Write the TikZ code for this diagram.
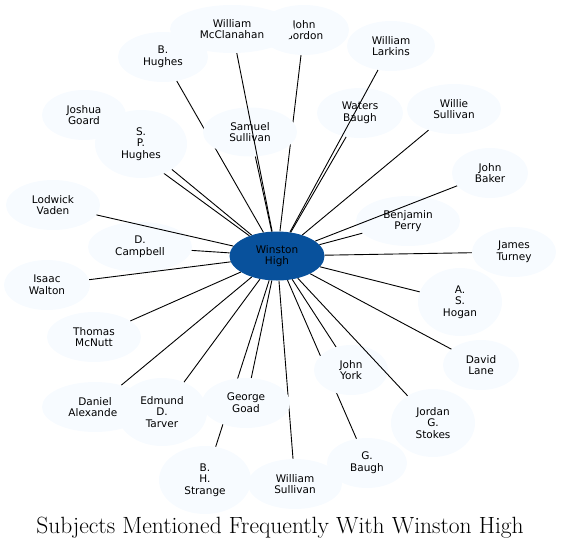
\documentclass[tikz,border=0pt]{standalone}
\usepackage{fontspec}
\newfontfamily\labelfont{DejaVu Sans}
\usetikzlibrary{shapes.geometric}
\definecolor{hubblue}{HTML}{08519C}
\definecolor{paleblue}{HTML}{F7FBFF}
\tikzstyle{hub} = [ellipse, fill=hubblue, inner sep=0pt, minimum width=95pt, minimum height=49pt, align=center, font=\labelfont\fontsize{10.5}{11.7}\selectfont]
\tikzstyle{pale} = [ellipse, fill=paleblue, inner sep=0pt, minimum width=90pt, minimum height=50pt, align=center, font=\labelfont\fontsize{10.5}{11.7}\selectfont]
\tikzstyle{link} = [draw=black, line width=0.9pt]

\begin{document}
\begin{tikzpicture}[x=1pt, y=-1pt]
        \useasboundingbox (0,0) rectangle (561,549);

        %% hub
        \node (WH) [hub] at (277,256) {Winston\\High};

        %% subjects, each followed by its link
        \node (JoG) [pale, minimum width=84pt] at (84,115) {Joshua\\Goard};
        \draw [link] (WH) -- (JoG);
        \node (SPH) [pale, minimum width=92pt, minimum height=68pt] at (141,144) {S.\\P.\\Hughes};
        \draw [link] (WH) -- (SPH);
        \node (DC) [pale, minimum width=104pt] at (140,247) {D.\\Campbell};
        \draw [link] (WH) -- (DC);
        \node (LV) [pale, minimum width=94pt] at (53,205) {Lodwick\\Vaden};
        \draw [link] (WH) -- (LV);
        \node (BHu) [pale, minimum width=90pt] at (163,57) {B.\\Hughes};
        \draw [link] (WH) -- (BHu);
        \node (JGo) [pale, minimum width=90pt] at (304,30) {John\\Gordon};
        \draw [link] (WH) -- (JGo);
        \node (SS) [pale, minimum width=94pt, minimum height=49pt] at (250,132) {Samuel\\Sullivan};
        \draw [link] (WH) -- (SS);
        \node (WMc) [pale, minimum width=124pt, minimum height=48pt] at (232,29) {William\\McClanahan};
        \draw [link] (WH) -- (WMc);
        \node (WB) [pale, minimum width=86pt] at (360,113) {Waters\\Baugh};
        \draw [link] (WH) -- (WB);
        \node (WL) [pale, minimum width=88pt] at (391,46) {William\\Larkins};
        \draw [link] (WH) -- (WL);
        \node (WiS) [pale, minimum width=94pt] at (454,109) {Willie\\Sullivan};
        \draw [link] (WH) -- (WiS);
        \node (BP) [pale, minimum width=104pt] at (408,221) {Benjamin\\Perry};
        \draw [link] (WH) -- (BP);
        \node (JB) [pale, minimum width=76pt] at (490,173) {John\\Baker};
        \draw [link] (WH) -- (JB);
        \node (JT) [pale, minimum width=84pt] at (514,252) {James\\Turney};
        \draw [link] (WH) -- (JT);
        \node (ASH) [pale, minimum width=84pt, minimum height=68pt] at (460,302) {A.\\S.\\Hogan};
        \draw [link] (WH) -- (ASH);
        \node (DL) [pale, minimum width=76pt] at (481,365) {David\\Lane};
        \draw [link] (WH) -- (DL);
        \node (GB) [pale, minimum width=80pt] at (367,463) {G.\\Baugh};
        \draw [link] (WH) -- (GB);
        \node (JY) [pale, minimum width=74pt] at (351,370) {John\\York};
        \draw [link] (WH) -- (JY);
        \node (JGS) [pale, minimum width=84pt, minimum height=68pt] at (433,423) {Jordan\\G.\\Stokes};
        \draw [link] (WH) -- (JGS);
        \node (WSu) [pale, minimum width=94pt] at (295,484) {William\\Sullivan};
        \draw [link] (WH) -- (WSu);
        \node (BHS) [pale, minimum width=92pt, minimum height=68pt] at (205,480) {B.\\H.\\Strange};
        \draw [link] (WH) -- (BHS);
        \node (GG) [pale, minimum width=88pt] at (246,403) {George\\Goad};
        \draw [link] (WH) -- (GG);
        \node (DA) [pale, minimum width=106pt] at (95,407) {Daniel\\Alexander};
        \draw [link] (WH) -- (DA);
        \node (EDT) [pale, minimum width=90pt, minimum height=68pt] at (162,412) {Edmund\\D.\\Tarver};
        \draw [link] (WH) -- (EDT);
        \node (IW) [pale, minimum width=86pt] at (47,285) {Isaac\\Walton};
        \draw [link] (WH) -- (IW);
        \node (TM) [pale, minimum width=94pt] at (94,337) {Thomas\\McNutt};
        \draw [link] (WH) -- (TM);

        %% caption
        \node (title) [anchor=base, font=\fontsize{23.5}{28}\selectfont] at (280,533) {Subjects Mentioned Frequently With Winston High};

\end{tikzpicture}
\end{document}
